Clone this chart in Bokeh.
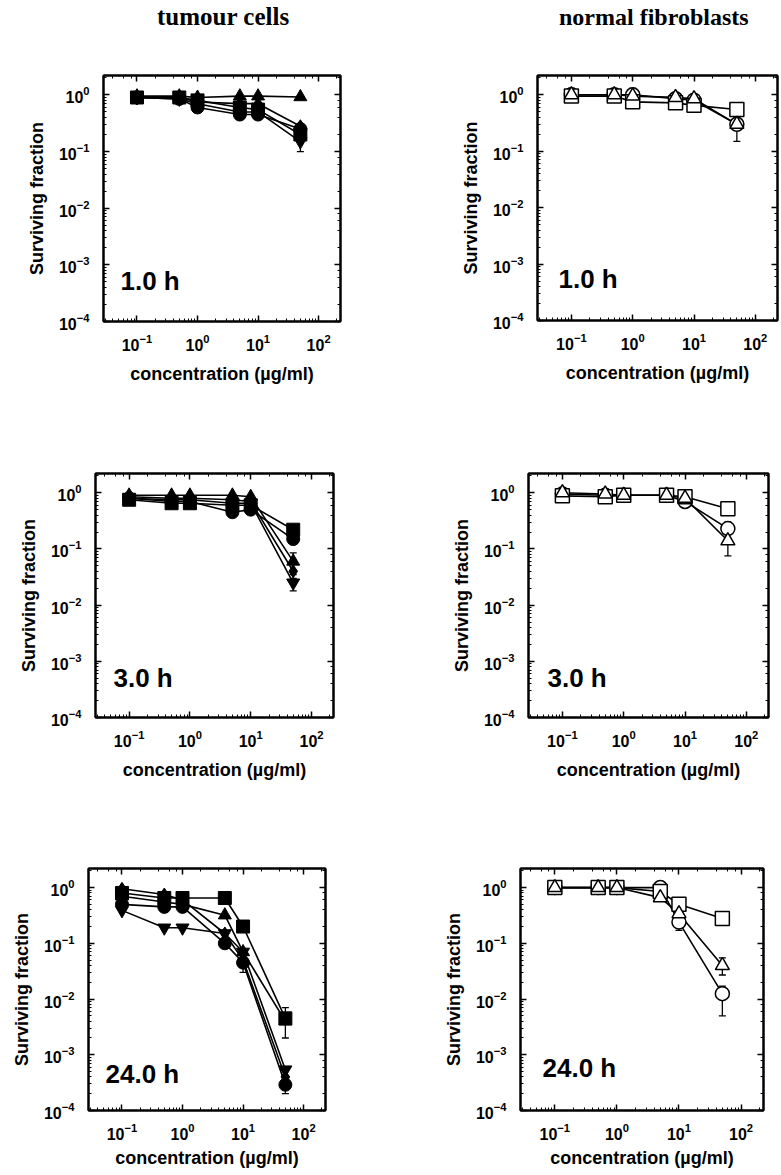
from bokeh.plotting import figure
from bokeh.layouts import column, row
from bokeh.models import (LogAxis, Label, Whisker, ColumnDataSource, TeeHead,
                          CustomJSTickFormatter, Div)
from bokeh.embed import file_html
from bokeh.resources import INLINE

# ---------------- data ----------------
concentration = [0.1, 0.5, 1, 5, 10, 50]

# tumour cells (filled markers)
tumour_1h_circle = [0.9, 0.85, 0.6, 0.45, 0.45, 0.25]
tumour_1h_square = [0.9, 0.9, 0.8, 0.6, 0.55, 0.2]
tumour_1h_triangle = [0.95, 0.95, 0.9, 0.95, 0.95, 0.92]
tumour_1h_inv_triangle = [0.9, 0.85, 0.7, 0.5, 0.5, 0.15]
tumour_1h_diamond = [0.9, 0.9, 0.75, 0.7, 0.7, 0.28]

tumour_3h_circle = [0.8, 0.7, 0.7, 0.45, 0.5, 0.15]
tumour_3h_square = [0.75, 0.65, 0.65, 0.6, 0.6, 0.22]
tumour_3h_triangle = [0.9, 0.9, 0.9, 0.9, 0.85, 0.06]
tumour_3h_inv_triangle = [0.8, 0.75, 0.75, 0.65, 0.65, 0.025]
tumour_3h_diamond = [0.85, 0.8, 0.8, 0.75, 0.7, 0.04]

tumour_24h_circle = [0.5, 0.45, 0.45, 0.1, 0.045, 0.00029]
tumour_24h_square = [0.8, 0.65, 0.65, 0.65, 0.2, 0.0045]
tumour_24h_triangle = [0.7, 0.55, 0.5, 0.32, 0.07, 0.004]
tumour_24h_inv_triangle = [0.39, 0.19, 0.19, 0.15, 0.07, 0.00054]
tumour_24h_diamond = [0.95, 0.75, 0.6, 0.15, 0.05, 0.0004]

# normal fibroblasts (open markers)
normal_1h_circle = [1.0, 1.0, 1.0, 0.85, 0.8, 0.3]
normal_1h_square = [0.95, 0.95, 0.75, 0.72, 0.65, 0.55]
normal_1h_triangle = [1.0, 1.0, 0.95, 0.9, 0.85, 0.3]

normal_3h_circle = [0.95, 0.9, 0.9, 0.9, 0.7, 0.23]
normal_3h_square = [0.88, 0.85, 0.9, 0.9, 0.85, 0.52]
normal_3h_triangle = [1.0, 0.95, 0.9, 0.9, 0.8, 0.14]

normal_24h_circle = [1.0, 1.0, 1.0, 1.0, 0.24, 0.0125]
normal_24h_square = [1.0, 1.0, 1.0, 0.85, 0.5, 0.28]
normal_24h_triangle = [1.0, 1.0, 1.0, 0.66, 0.34, 0.04]

# error bars: x, lower, upper
tumour_1h_err_x = [50, 10]
tumour_1h_err_lo = [0.1, 0.4]
tumour_1h_err_hi = [0.2, 0.55]
tumour_3h_err_x = [50, 50]
tumour_3h_err_lo = [0.018, 0.03]
tumour_3h_err_hi = [0.035, 0.085]
tumour_24h_err_x = [50, 50, 10]
tumour_24h_err_lo = [0.002, 0.0002, 0.03]
tumour_24h_err_hi = [0.007, 0.00035, 0.06]
normal_1h_err_x = [50, 0.1, 1]
normal_1h_err_lo = [0.15, 0.8, 0.8]
normal_1h_err_hi = [0.4, 1.3, 1.3]
normal_3h_err_x = [50, 50, 10]
normal_3h_err_lo = [0.075, 0.2, 0.7]
normal_3h_err_hi = [0.2, 0.3, 1.1]
normal_24h_err_x = [50, 50, 10]
normal_24h_err_lo = [0.005, 0.027, 0.17]
normal_24h_err_hi = [0.017, 0.055, 0.3]

column_titles = ["tumour cells", "normal fibroblasts"]
time_labels = ["1.0 h", "3.0 h", "24.0 h"]
x_label = "concentration (µg/ml)"
y_label = "Surviving fraction"

X_RANGE = (0.028, 230)
Y_RANGE = (1e-4, 2.2)

SANS = "Liberation Sans"
SERIF = "Liberation Serif"


def style_axis(ax, labels=True):
    ax.major_tick_in = 6
    ax.major_tick_out = 0
    ax.minor_tick_in = 3
    ax.minor_tick_out = 0
    ax.axis_line_width = 2
    ax.axis_line_color = "black"
    ax.major_tick_line_width = 1.5
    ax.minor_tick_line_width = 1
    ax.major_tick_line_color = "black"
    ax.minor_tick_line_color = "black"
    if labels:
        ax.major_label_text_font = SANS
        ax.major_label_text_font_style = "bold"
        ax.major_label_text_font_size = "16px"
        ax.major_label_text_color = "black"
    else:
        ax.formatter = CustomJSTickFormatter(code="return ''")
        ax.major_label_text_font_size = "2px"
        ax.major_label_standoff = 0


def panel(series, markers, filled, err, label, geom, xlab_standoff=10, label_pos=(18, 30)):
    bl, fw, br, bt, fh, bb = geom
    p = figure(x_axis_type="log", y_axis_type="log", x_range=X_RANGE, y_range=Y_RANGE,
               frame_width=fw, frame_height=fh,
               min_border_left=bl, min_border_right=br,
               min_border_top=bt, min_border_bottom=bb,
               toolbar_location=None, output_backend="svg",
               background_fill_color="white", border_fill_color="white")
    p.grid.visible = False
    p.outline_line_color = "black"
    p.outline_line_width = 2

    style_axis(p.xaxis[0])
    style_axis(p.yaxis[0])
    p.xaxis.major_label_standoff = 12
    p.yaxis.major_label_standoff = 14
    p.xaxis.axis_label = x_label
    p.yaxis.axis_label = y_label
    for ax in (p.xaxis[0], p.yaxis[0]):
        ax.axis_label_text_font = SANS
        ax.axis_label_text_font_style = "bold"
        ax.axis_label_text_font_size = "18px"
        ax.axis_label_text_color = "black"
    p.xaxis.axis_label_standoff = xlab_standoff
    p.yaxis.axis_label_standoff = 9

    top = LogAxis()
    right = LogAxis()
    style_axis(top, labels=False)
    style_axis(right, labels=False)
    p.add_layout(top, "above")
    p.add_layout(right, "right")

    ex, elo, ehi = err
    src = ColumnDataSource(dict(x=ex, lower=elo, upper=ehi))
    p.add_layout(Whisker(source=src, base="x", lower="lower", upper="upper",
                         dimension="height", line_color="black", line_width=1.3,
                         lower_head=TeeHead(size=7, line_width=1.3),
                         upper_head=TeeHead(size=7, line_width=1.3)))

    for vals in series:
        p.line(concentration, vals, line_color="black", line_width=1.6)
    for vals, m in zip(series, markers):
        if filled:
            p.scatter(concentration, vals, marker=m, size=13,
                      fill_color="black", line_color="black", line_width=1)
        else:
            p.scatter(concentration, vals, marker=m, size=14,
                      fill_color="white", line_color="black", line_width=1.5)

    p.add_layout(Label(x=label_pos[0], y=label_pos[1] + 10, x_units="screen", y_units="screen",
                       text=label, text_font=SANS, text_font_style="bold",
                       text_font_size="26px", text_color="black",
                       text_baseline="alphabetic"))
    return p


def title_div(text, width, indent, size):
    return Div(text=text, width=width, height=36, margin=(0, 0, 0, 0),
               styles={"font-family": SERIF, "font-weight": "bold", "font-size": f"{size}px",
                       "color": "black", "line-height": "30px", "padding-top": "2px",
                       "text-indent": f"{indent}px", "white-space": "nowrap"})


tm = ["circle", "square", "triangle", "inverted_triangle", "diamond"]
nm = ["circle", "square", "triangle"]

d1 = title_div(column_titles[0], 430, 157, 25)
d2 = title_div(column_titles[1], 351, 129, 24)

p1 = panel([tumour_1h_circle, tumour_1h_square, tumour_1h_triangle,
            tumour_1h_inv_triangle, tumour_1h_diamond], tm, True,
           (tumour_1h_err_x, tumour_1h_err_lo, tumour_1h_err_hi), time_labels[0],
           (103, 237, 90, 36, 246, 82), label_pos=(17, 31))
p2 = panel([normal_1h_circle, normal_1h_square, normal_1h_triangle], nm, False,
           (normal_1h_err_x, normal_1h_err_lo, normal_1h_err_hi), time_labels[0],
           (107, 240, 4, 39, 245, 80), label_pos=(21, 32))
p3 = panel([tumour_3h_circle, tumour_3h_square, tumour_3h_triangle,
            tumour_3h_inv_triangle, tumour_3h_diamond], tm, True,
           (tumour_3h_err_x, tumour_3h_err_lo, tumour_3h_err_hi), time_labels[1],
           (95, 238, 97, 73, 244, 73), label_pos=(18, 30))
p4 = panel([normal_3h_circle, normal_3h_square, normal_3h_triangle], nm, False,
           (normal_3h_err_x, normal_3h_err_lo, normal_3h_err_hi), time_labels[1],
           (98, 240, 13, 73, 244, 73), label_pos=(19, 30))
p5 = panel([tumour_24h_circle, tumour_24h_square, tumour_24h_triangle,
            tumour_24h_inv_triangle, tumour_24h_diamond], tm, True,
           (tumour_24h_err_x, tumour_24h_err_lo, tumour_24h_err_hi), time_labels[2],
           (88, 237, 105, 73, 242, 70), label_pos=(17, 27), xlab_standoff=5)
p6 = panel([normal_24h_circle, normal_24h_square, normal_24h_triangle], nm, False,
           (normal_24h_err_x, normal_24h_err_lo, normal_24h_err_hi), time_labels[2],
           (90, 243, 18, 78, 242, 65), label_pos=(22, 33), xlab_standoff=5)

layout = column(row(d1, d2, spacing=0),
                row(p1, p2, spacing=0), row(p3, p4, spacing=0), row(p5, p6, spacing=0),
                spacing=0)

open("out.html", "w").write(file_html(layout, INLINE))
